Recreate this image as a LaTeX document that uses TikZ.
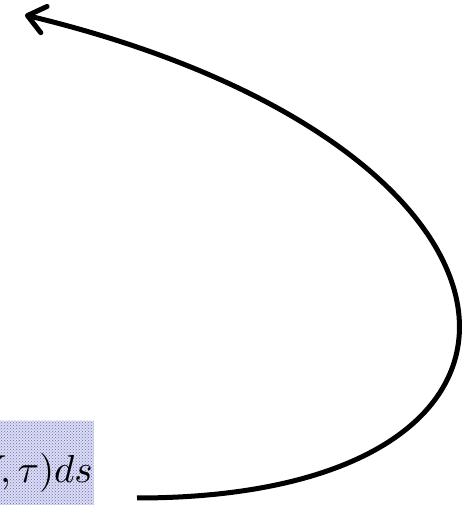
\documentclass[tikz,border=0pt]{standalone}
\usetikzlibrary{arrows.meta,patterns}
\definecolor{boxfill}{RGB}{218,220,250}
\definecolor{dotcol}{RGB}{110,112,150}
\tikzset{
  labelbox/.style={anchor=base east, inner xsep=1pt, inner ysep=0pt,
    text height=62pt, text depth=30pt,
    preaction={fill=boxfill}, pattern=crosshatch dots, pattern color=dotcol},
  bigarrow/.style={line width=5pt, -{Straight Barb[length=17pt,width=27pt,round]}}
}
\begin{document}
\begin{tikzpicture}[x=1pt,y=1pt]
\clip (0,0) rectangle (462,505);
\node[labelbox] (lbl) at (94,22) {\scalebox{3.9}{$V,\tau)ds$}};
\coordinate (s) at (137,7);
\coordinate (e) at (25,490);
\draw[bigarrow] (s) .. controls (597,7) and (568,359) .. (e);
\end{tikzpicture}
\end{document}
